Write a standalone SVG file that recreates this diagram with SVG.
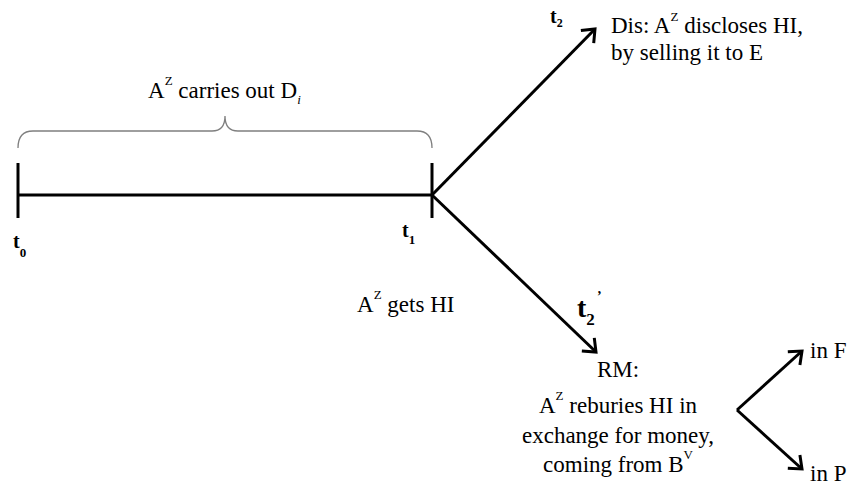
<svg xmlns="http://www.w3.org/2000/svg" width="849" height="487" viewBox="0 0 849 487">
  <style>
    text { font-family: 'Liberation Serif', 'Times New Roman', Tinos, 'DejaVu Serif', serif; }
    .txt { font-size: 23px; fill: #000; }
    .tl { font-size: 20px; font-weight: bold; fill: #000; }
    .ln { stroke: #000; stroke-width: 3; fill: none; }
    .arr { stroke: #000; stroke-width: 3; fill: none; marker-end: url(#ah); }
    .brace { stroke: #7f7f7f; stroke-width: 1.3; fill: none; }
  </style>
  <defs>
    <marker id="ah" markerUnits="userSpaceOnUse" markerWidth="30" markerHeight="30" viewBox="-20 -15 30 30" refX="0" refY="0" orient="auto" overflow="visible">
      <path d="M-11,-9 L0,0 L-11,9" fill="none" stroke="#000" stroke-width="3" stroke-linejoin="miter"/>
    </marker>
  </defs>
  <rect width="849" height="487" fill="#fff"/>

  <g id="connectors">
    <line class="ln" x1="18" y1="195" x2="432" y2="195"/>
    <line class="ln" x1="18" y1="163" x2="18" y2="218"/>
    <line class="ln" x1="432" y1="163" x2="432" y2="218"/>
    <path class="brace" d="M18,148 Q18,131 33,131 L212,131 Q225,131 225,116 Q225,131 238,131 L417,131 Q432,131 432,148"/>
    <line class="arr" x1="432" y1="195" x2="595" y2="29"/>
    <line class="arr" x1="432" y1="195" x2="596" y2="352"/>
    <line class="arr" x1="737" y1="410" x2="802" y2="351"/>
    <line class="arr" x1="737" y1="410" x2="802" y2="469"/>
  </g>

  <g id="label-carries">
    <text class="txt" font-family="Liberation Serif, serif" x="148" y="98">A<tspan font-size="13" dy="-13">Z</tspan><tspan dy="13"> carries out D</tspan><tspan font-size="13" font-style="italic" dy="6">i</tspan></text>
  </g>

  <g id="t0">
    <text class="tl" font-family="Liberation Serif, serif" x="13" y="248">t<tspan font-size="13" dy="9">0</tspan></text>
  </g>
  <g id="t1">
    <text class="tl" font-family="Liberation Serif, serif" x="402" y="237">t<tspan font-size="13" dy="7">1</tspan></text>
  </g>
  <g id="t2">
    <text class="tl" font-family="Liberation Serif, serif" x="550" y="23">t<tspan font-size="12" dy="4">2</tspan></text>
  </g>
  <g id="t2prime">
    <text class="tl" font-family="Liberation Serif, serif" x="577" y="317" style="font-size:28px">t<tspan style="font-size:17px" dy="8">2</tspan></text>
    <text class="tl" font-family="Liberation Serif, serif" x="597" y="301" style="font-size:14px">’</text>
  </g>

  <g id="node-gets">
    <text class="txt" font-family="Liberation Serif, serif" x="357" y="312">A<tspan font-size="13" dy="-13">Z</tspan><tspan dy="13"> gets HI</tspan></text>
  </g>

  <g id="node-dis">
    <text class="txt" font-family="Liberation Serif, serif" x="611" y="33">Dis: A<tspan font-size="13" dy="-12">Z</tspan><tspan dy="12"> discloses HI,</tspan></text>
    <text class="txt" font-family="Liberation Serif, serif" x="611" y="60">by selling it to E</text>
  </g>

  <g id="node-rm">
    <text class="txt" font-family="Liberation Serif, serif" x="618" y="377" text-anchor="middle">RM:</text>
    <text class="txt" font-family="Liberation Serif, serif" x="618" y="413" text-anchor="middle">A<tspan font-size="13" dy="-13">Z</tspan><tspan dy="13"> reburies HI in</tspan></text>
    <text class="txt" font-family="Liberation Serif, serif" x="618" y="443" text-anchor="middle">exchange for money,</text>
    <text class="txt" font-family="Liberation Serif, serif" x="618" y="472" text-anchor="middle">coming from B<tspan font-size="13" dy="-13">V</tspan></text>
  </g>

  <g id="node-inF">
    <text class="txt" font-family="Liberation Serif, serif" x="810" y="358">in F</text>
  </g>
  <g id="node-inP">
    <text class="txt" font-family="Liberation Serif, serif" x="810" y="481">in P</text>
  </g>
</svg>
